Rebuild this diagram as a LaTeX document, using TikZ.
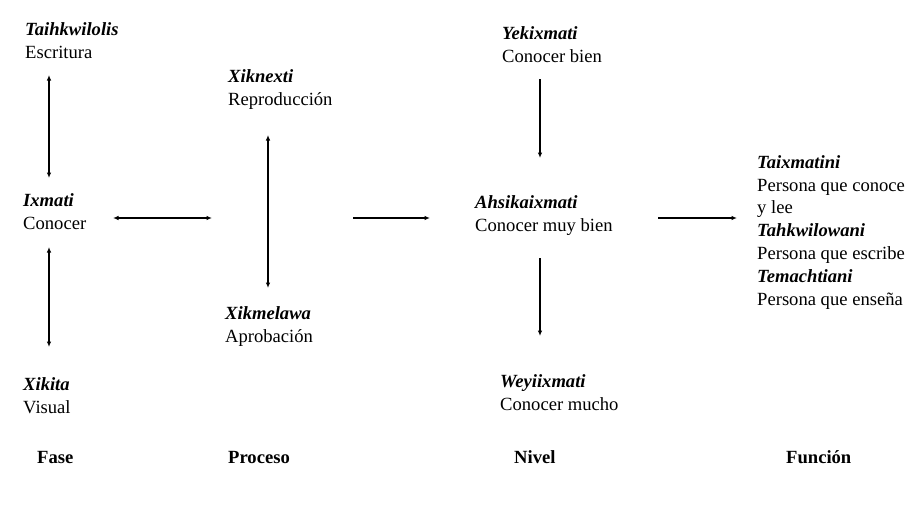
\documentclass[tikz,border=0pt]{standalone}
\usepackage{fontspec}
\setmainfont{Liberation Serif}
\usetikzlibrary{arrows.meta}
\begin{document}
\begin{tikzpicture}[x=1pt,y=-1pt,
  lbl/.style={anchor=base west,inner sep=0pt,align=left,font=\fontsize{18.6}{22.8}\selectfont},
  head/.style={anchor=base west,inner sep=0pt,font=\fontsize{18.6}{22.8}\selectfont\bfseries},
  arr/.style={line width=1.1pt,-{Latex[length=5.5pt,width=4.5pt]}},
  dbl/.style={line width=1.1pt,{Latex[length=5.5pt,width=4.5pt]}-{Latex[length=5.5pt,width=4.5pt]}}]
\useasboundingbox (0,0) rectangle (923,509);
% Fase (anchor = baseline of last line)
\node[lbl] (tai) at (25,58) {\textbf{\textit{Taihkwilolis}}\\Escritura};
\node[lbl] (ix) at (23,229) {\textbf{\textit{Ixmati}}\\Conocer};
\node[lbl] (xik) at (23,413) {\textbf{\textit{Xikita}}\\Visual};
% Proceso
\node[lbl] (xn) at (228,105) {\textbf{\textit{Xiknexti}}\\Reproducción};
\node[lbl] (xm) at (225,342) {\textbf{\textit{Xikmelawa}}\\Aprobación};
% Nivel
\node[lbl] (yek) at (502,62) {\textbf{\textit{Yekixmati}}\\Conocer bien};
\node[lbl] (ahs) at (475,231) {\textbf{\textit{Ahsikaixmati}}\\Conocer muy bien};
\node[lbl] (wey) at (500,410) {\textbf{\textit{Weyiixmati}}\\Conocer mucho};
% Funcion
\node[lbl] (fun) at (757,305) {\textbf{\textit{Taixmatini}}\\Persona que conoce\\y lee\\\textbf{\textit{Tahkwilowani}}\\Persona que escribe\\\textbf{\textit{Temachtiani}}\\Persona que enseña};
% headers
\node[head] (hfase) at (37,463) {Fase};
\node[head] (hproc) at (228,463) {Proceso};
\node[head] (hniv) at (514,463) {Nivel};
\node[head] (hfun) at (786,463) {Función};
% arrow end points
\coordinate (a1) at (49,75);  \coordinate (a2) at (49,178);
\coordinate (b1) at (49,247); \coordinate (b2) at (49,347);
\coordinate (c1) at (113,218); \coordinate (c2) at (212,218);
\coordinate (d1) at (268,135); \coordinate (d2) at (268,288);
\coordinate (e1) at (353,218); \coordinate (e2) at (430,218);
\coordinate (f1) at (540,79); \coordinate (f2) at (540,158);
\coordinate (g1) at (540,258); \coordinate (g2) at (540,336);
\coordinate (h1) at (658,218); \coordinate (h2) at (737,218);
\draw[dbl] (a1) -- (a2);
\draw[dbl] (b1) -- (b2);
\draw[dbl] (c1) -- (c2);
\draw[dbl] (d1) -- (d2);
\draw[arr] (e1) -- (e2);
\draw[arr] (f1) -- (f2);
\draw[arr] (g1) -- (g2);
\draw[arr] (h1) -- (h2);
\end{tikzpicture}
\end{document}
